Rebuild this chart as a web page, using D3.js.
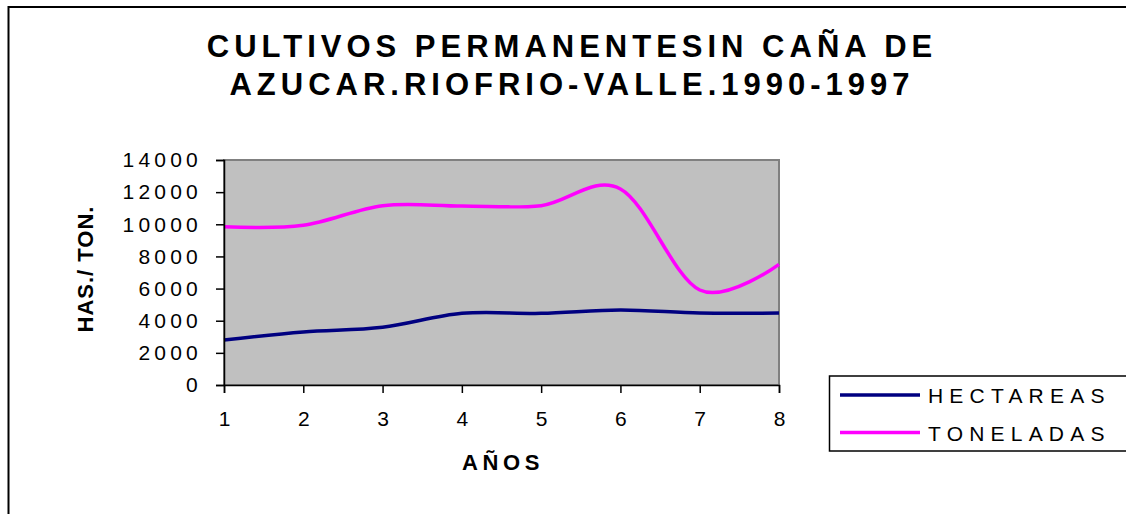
<!DOCTYPE html>
<html>
<head>
<meta charset="utf-8">
<script src="https://cdn.jsdelivr.net/npm/d3@7"></script>
<style>
  body { margin: 0; background: #fff; }
  text { font-family: "Liberation Sans", Arial, sans-serif; }
</style>
</head>
<body>
<script>
// data
var years = [1, 2, 3, 4, 5, 6, 7, 8];
var hectareas = [2800, 3300, 3590, 4460, 4460, 4670, 4480, 4480];
var toneladas = [9850, 9940, 11160, 11140, 11160, 12200, 5910, 7510];
var yTicks = [0, 2000, 4000, 6000, 8000, 10000, 12000, 14000];
var seriesNames = ['HECTAREAS', 'TONELADAS'];
var seriesColors = ['#000080', '#ff00ff'];

var width = 1126, height = 514;
var plot = { left: 224, top: 160, right: 779, bottom: 385 };
var fontFamily = '"Liberation Sans", Arial, sans-serif';

var svg = d3.select('body').append('svg')
            .attr('width', width)
            .attr('height', height);

// outer chart border
svg.append('rect')
   .attr('x', 8.5).attr('y', 7)
   .attr('width', 1130).attr('height', 520)
   .attr('fill', 'none')
   .attr('stroke', '#000')
   .attr('stroke-width', 2);

// title
var title = svg.append('text')
               .attr('text-anchor', 'middle')
               .attr('font-weight', 'bold')
               .attr('font-size', 31)
               .style('letter-spacing', '5px');
title.append('tspan').attr('x', 572).attr('y', 57).text('CULTIVOS PERMANENTESIN CAÑA DE');
title.append('tspan').attr('x', 572).attr('y', 95).text('AZUCAR.RIOFRIO-VALLE.1990-1997');

var x = d3.scaleLinear().domain([1, 8]).range([plot.left, plot.right]);
var y = d3.scaleLinear().domain([0, 14000]).range([plot.bottom, plot.top]);

// plot area
svg.append('rect')
   .attr('x', plot.left).attr('y', plot.top)
   .attr('width', plot.right - plot.left)
   .attr('height', plot.bottom - plot.top)
   .attr('fill', '#c0c0c0')
   .attr('stroke', '#808080')
   .attr('stroke-width', 2);

// lines, smoothed like the spreadsheet
var line = d3.line()
             .x(function(d){ return x(d.x); })
             .y(function(d){ return y(d.y); })
             .curve(d3.curveCardinal.tension(0));

[hectareas, toneladas].forEach(function(vals, i){
  var pts = years.map(function(yr, j){ return { x: yr, y: vals[j] }; });
  svg.append('path')
     .datum(pts)
     .attr('d', line)
     .attr('fill', 'none')
     .attr('stroke', seriesColors[i])
     .attr('stroke-width', 3.5);
});

// y axis
var yAxis = svg.append('g')
               .attr('transform', 'translate(' + plot.left + ',0)')
               .attr('font-size', 21)
               .attr('font-family', fontFamily)
               .call(d3.axisLeft(y).tickValues(yTicks).tickFormat(d3.format('d')).tickSize(8).tickPadding(14));
yAxis.attr('font-size', 21).attr('font-family', fontFamily);
yAxis.select('.domain').attr('stroke', '#000').attr('stroke-width', 1.5);
yAxis.selectAll('.tick line').attr('stroke', '#000').attr('stroke-width', 1.5);
yAxis.selectAll('.tick text')
     .attr('fill', '#000')
     .style('letter-spacing', '4.2px');

// x axis
var xAxis = svg.append('g')
               .attr('transform', 'translate(0,' + plot.bottom + ')')
               .call(d3.axisBottom(x).tickValues(years).tickFormat(d3.format('d')).tickSize(8).tickPadding(18));
xAxis.attr('font-size', 21).attr('font-family', fontFamily);
xAxis.select('.domain').attr('stroke', '#000').attr('stroke-width', 1.5);
xAxis.selectAll('.tick line').attr('stroke', '#000').attr('stroke-width', 1.5);
xAxis.selectAll('.tick text').attr('fill', '#000');

// axis titles
svg.append('text')
   .attr('x', 503).attr('y', 470)
   .attr('text-anchor', 'middle')
   .attr('font-weight', 'bold')
   .attr('font-size', 22)
   .style('letter-spacing', '4.6px')
   .text('AÑOS');

svg.append('text')
   .attr('transform', 'translate(93,269) rotate(-90)')
   .attr('text-anchor', 'middle')
   .attr('font-weight', 'bold')
   .attr('font-size', 22)
   .style('letter-spacing', '1px')
   .text('HAS./ TON.');

// legend
var legend = svg.append('g');
legend.append('rect')
      .attr('x', 829.5).attr('y', 376)
      .attr('width', 310).attr('height', 75)
      .attr('fill', '#fff')
      .attr('stroke', '#000')
      .attr('stroke-width', 1.5);

seriesNames.forEach(function(name, i){
  var ly = 395 + i * 37.5;
  legend.append('line')
        .attr('x1', 840).attr('x2', 920)
        .attr('y1', ly).attr('y2', ly)
        .attr('stroke', seriesColors[i])
        .attr('stroke-width', 3.5);
  legend.append('text')
        .attr('x', 928).attr('y', ly + 8)
        .attr('font-size', 21)
        .style('letter-spacing', '6.2px')
        .text(name);
});
</script>
</body>
</html>
